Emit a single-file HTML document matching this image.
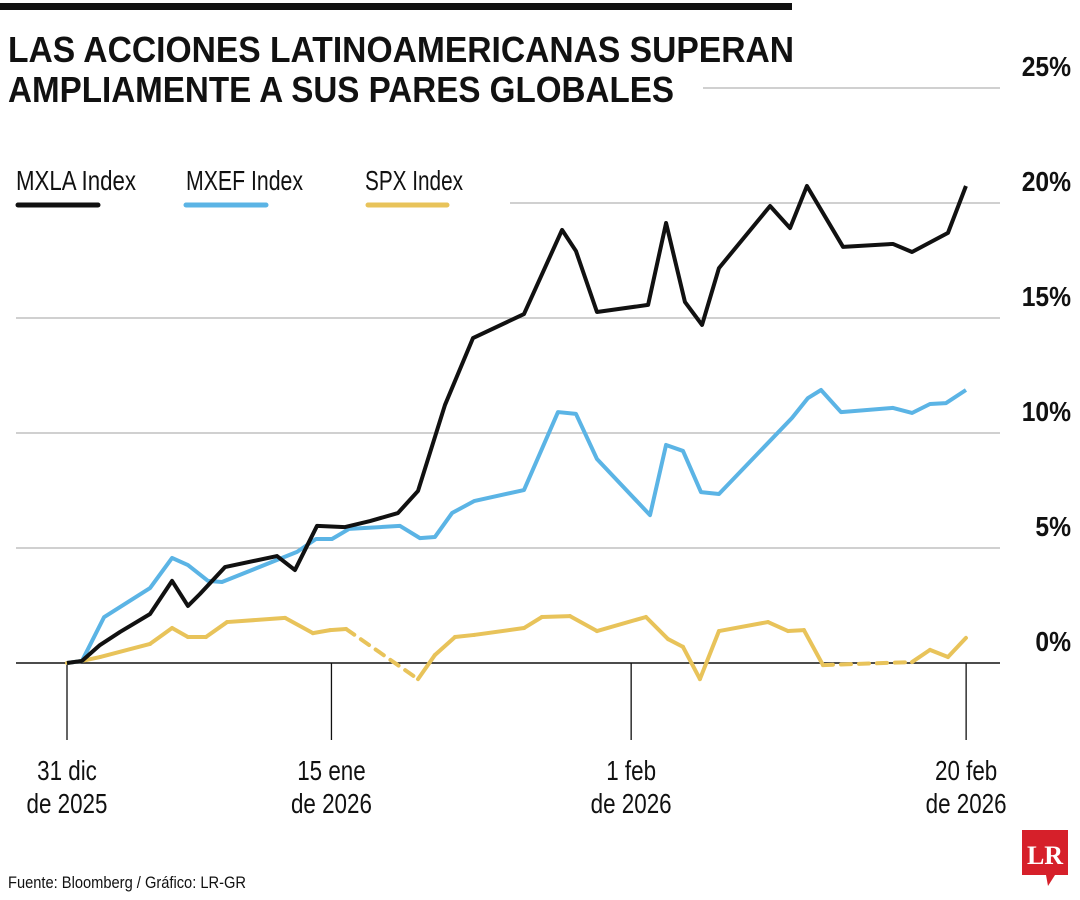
<!DOCTYPE html>
<html><head><meta charset="utf-8">
<style>
html,body{margin:0;padding:0;background:#fff;}
svg{display:block;font-family:"Liberation Sans",sans-serif;}
</style></head>
<body>
<svg id="chart" width="1080" height="900" viewBox="0 0 1080 900">
<rect x="0" y="3" width="792" height="7" fill="#111"/>
<text x="8" y="62" font-size="36" font-weight="bold" fill="#111" textLength="786" lengthAdjust="spacingAndGlyphs">LAS ACCIONES LATINOAMERICANAS SUPERAN</text>
<text x="8" y="102" font-size="36" font-weight="bold" fill="#111" textLength="666" lengthAdjust="spacingAndGlyphs">AMPLIAMENTE A SUS PARES GLOBALES</text>
<g id="grid"></g>
<g id="yticks"></g>
<g id="xticks"></g>
<g id="series"></g>
<g>
<g>
<text x="16" y="190" font-size="28" fill="#111" textLength="120" lengthAdjust="spacingAndGlyphs">MXLA Index</text>
<line x1="18" y1="205" x2="98" y2="205" stroke="#111" stroke-width="5" stroke-linecap="round"/></g>
<g>
<text x="186" y="190" font-size="28" fill="#111" textLength="117" lengthAdjust="spacingAndGlyphs">MXEF Index</text>
<line x1="186" y1="205" x2="266" y2="205" stroke="#5bb4e5" stroke-width="5" stroke-linecap="round"/></g>
<g>
<text x="365" y="190" font-size="28" fill="#111" textLength="98" lengthAdjust="spacingAndGlyphs">SPX Index</text>
<line x1="368" y1="205" x2="447" y2="205" stroke="#e8c35a" stroke-width="5" stroke-linecap="round"/></g>
</g>
<text x="8" y="888" font-size="17" fill="#111" textLength="238" lengthAdjust="spacingAndGlyphs">Fuente: Bloomberg / Gráfico: LR-GR</text>
<g>
<path d="M1022 830 H1068 V875 H1055 L1048 886 L1046 875 H1022 Z" fill="#d6202a"/>
<text x="1045" y="864" font-size="26" font-weight="bold" fill="#fff" text-anchor="middle" font-family="Liberation Serif,serif">LR</text>
</g>
</svg>
<script>
const yTicks=[0,5,10,15,20,25];
const yTickLabels=["0%","5%","10%","15%","20%","25%"];
const xTickDays=[0,15,32,51];
const xTickLabels1=["31 dic","15 ene","1 feb","20 feb"];
const xTickLabels2=["de 2025","de 2026","de 2026","de 2026"];
const mxlaDays=[0,0.85,1.87,3.01,4.71,5.96,6.86,7.54,8.96,11.91,12.93,14.18,15.77,17.19,18.77,19.91,21.44,23.03,25.92,28.08,28.87,30.06,32.96,33.98,35.05,36.02,36.98,39.88,41.01,41.97,44.02,46.85,47.93,49.97,50.99];
const mxlaValues=[0,0.09,0.78,1.35,2.13,3.57,2.48,3.0,4.17,4.65,4.04,5.96,5.91,6.17,6.52,7.48,11.22,14.13,15.17,18.83,17.91,15.26,15.57,19.13,15.70,14.70,17.17,19.87,18.91,20.74,18.09,18.22,17.87,18.70,20.74];
const mxefDays=[0,0.85,2.10,4.71,5.96,6.86,8.00,8.79,13.05,14.12,15.03,16.0,18.89,20.02,20.87,21.84,23.09,25.92,27.85,28.87,30.06,33.07,33.98,34.94,35.96,36.98,41.12,42.03,42.77,43.90,46.85,47.93,48.95,49.86,50.99];
const mxefValues=[0,0.09,1.99,3.26,4.57,4.26,3.57,3.52,4.83,5.39,5.39,5.83,5.96,5.43,5.48,6.52,7.04,7.52,10.91,10.83,8.87,6.43,9.48,9.22,7.43,7.35,10.65,11.52,11.87,10.91,11.09,10.87,11.26,11.30,11.87];
const spxDays=[0,0.85,1.87,4.71,5.96,6.86,7.88,9.08,12.37,13.95,14.92,15.83,19.91,20.87,22.01,23.09,25.92,26.94,28.53,30.06,32.84,34.09,34.94,35.90,36.98,39.76,40.90,41.80,42.88,47.93,48.95,49.97,50.99];
const spxValues=[0,0.09,0.26,0.83,1.52,1.13,1.13,1.78,1.96,1.30,1.43,1.48,-0.70,0.35,1.13,1.22,1.52,2.0,2.04,1.39,2.0,1.04,0.70,-0.70,1.39,1.78,1.39,1.43,-0.09,0.04,0.57,0.26,1.09];
const spxDashedFrom=[11,28];

const NS="http://www.w3.org/2000/svg";
function xS(d){return 67+d*17.63;}
function yS(v){return 663-v*23;}
function mk(tag,attrs,parent){const e=document.createElementNS(NS,tag);for(const k in attrs)e.setAttribute(k,attrs[k]);parent.appendChild(e);return e;}
const grid=document.getElementById('grid'),yt=document.getElementById('yticks'),xt=document.getElementById('xticks'),ser=document.getElementById('series');
const gridStart={5:16,10:16,15:16,20:510,25:703};
yTicks.forEach((v,i)=>{
  if(v!==0){const l=mk('line',{x1:gridStart[v]||16,x2:1000,y1:yS(v),y2:yS(v),stroke:'#b5b5b5','stroke-width':1.3},grid);
  
  }
  const t=mk('text',{x:0,y:0,transform:'translate(1071,'+(yS(v)-12)+') scale(0.88,1)','font-size':28,'font-weight':'bold','text-anchor':'end',fill:'#111'},yt);
  t.textContent=yTickLabels[i];
  
  
});
const base=mk('line',{x1:16,x2:1000,y1:yS(0),y2:yS(0),stroke:'#111','stroke-width':1.5},grid);


xTickDays.forEach((d,i)=>{
  const x=xS(d);
  const l=mk('line',{x1:x,x2:x,y1:yS(0),y2:740,stroke:'#111','stroke-width':1.3},xt);
  
  
  const t1=mk('text',{x:0,y:0,transform:'translate('+x+',780) scale(0.8,1)','font-size':28,'text-anchor':'middle',fill:'#111'},xt);
  t1.textContent=xTickLabels1[i];
  
  
  const t2=mk('text',{x:0,y:0,transform:'translate('+x+',813) scale(0.8,1)','font-size':28,'text-anchor':'middle',fill:'#111'},xt);
  t2.textContent=xTickLabels2[i];
  
  
});
function line(days,vals,color,name){
  const p=mk('polyline',{points:days.map((d,i)=>xS(d)+','+yS(vals[i])).join(' '),fill:'none',stroke:color,'stroke-width':4,'stroke-linejoin':'round'},ser);
  
  
}
for(let i=0;i<spxDays.length-1;i++){
  const dashed=spxDashedFrom.includes(i);
  const s=mk('line',{x1:xS(spxDays[i]),y1:yS(spxValues[i]),x2:xS(spxDays[i+1]),y2:yS(spxValues[i+1]),stroke:'#e8c35a','stroke-width':4,'stroke-linecap':'round'},ser);
  if(dashed)s.setAttribute('stroke-dasharray','10 8');
  
  
}
line(mxefDays,mxefValues,'#5bb4e5','mxef-line');
line(mxlaDays,mxlaValues,'#111','mxla-line');
</script>
</body></html>
